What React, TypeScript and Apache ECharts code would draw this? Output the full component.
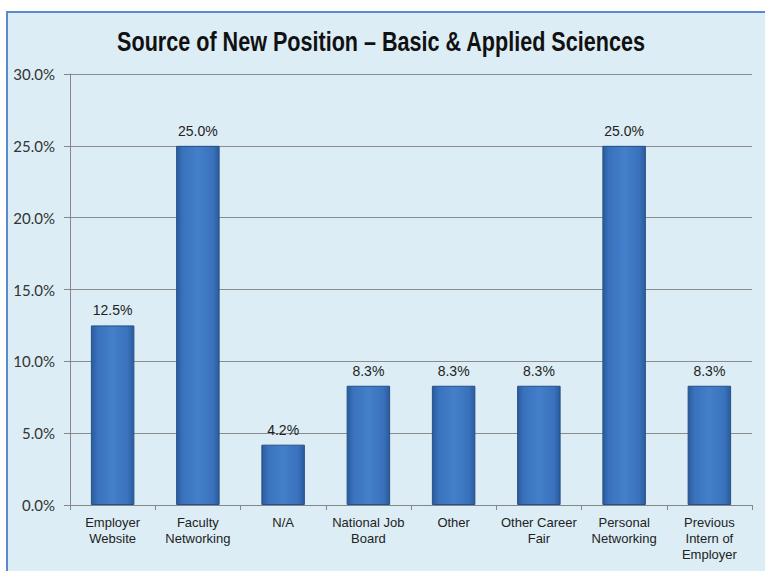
import React, { useEffect, useRef } from "react";
import * as echarts from "echarts";

const categories = [
  "Employer\nWebsite",
  "Faculty\nNetworking",
  "N/A",
  "National Job\nBoard",
  "Other",
  "Other Career\nFair",
  "Personal\nNetworking",
  "Previous\nIntern of\nEmployer",
];
const values = [12.5, 25.0, 4.2, 8.3, 8.3, 8.3, 25.0, 8.3];
const title = "Source of New Position – Basic & Applied Sciences";

export default function App() {
  const ref = useRef<HTMLDivElement>(null);
  useEffect(() => {
    document.body.style.margin = "0";
    const chart = echarts.init(ref.current!, undefined, { renderer: "svg" });
    chart.setOption({
      animation: false,
      backgroundColor: "#ffffff",
      graphic: [
        {
          type: "rect",
          z: -10,
          shape: { x: 7, y: 12, width: 800, height: 600 },
          style: { fill: "#DCEDF5", stroke: "#5A8ACB", lineWidth: 2 },
        },
        {
          type: "text",
          x: 381,
          y: 42,
          scaleX: 0.83,
          scaleY: 1.05,
          style: {
            text: title,
            x: 0,
            y: 0,
            align: "center",
            verticalAlign: "middle",
            fontFamily: "Liberation Sans, Arial",
            fontWeight: "bold",
            fontSize: 26,
            fill: "#111",
          },
        },
      ],
      grid: { left: 70, right: 13, top: 74, bottom: 66, containLabel: false },
      xAxis: {
        type: "category",
        data: categories,
        axisLine: { lineStyle: { color: "#868686", width: 1 } },
        axisTick: { show: true, length: 5, lineStyle: { color: "#868686" } },
        axisLabel: {
          interval: 0,
          color: "#222",
          fontFamily: "Liberation Sans, Arial",
          fontSize: 13,
          lineHeight: 16,
          margin: 9,
        },
      },
      yAxis: {
        type: "value",
        min: 0,
        max: 30,
        interval: 5,
        axisLine: { show: true, lineStyle: { color: "#868686" } },
        axisTick: { show: true, length: 6, lineStyle: { color: "#868686" } },
        splitLine: { lineStyle: { color: "#8C8C8C", width: 1 } },
        axisLabel: {
          formatter: (v: number) => v.toFixed(1) + "%",
          color: "#333",
          fontFamily: "Lato, Liberation Sans",
          fontSize: 15,
          margin: 15,
        },
      },
      series: [
        {
          type: "bar",
          data: values,
          barWidth: "51%",
          itemStyle: {
            color: new echarts.graphic.LinearGradient(0, 0, 1, 0, [
              { offset: 0, color: "#2A5C9E" },
              { offset: 0.15, color: "#3A72BC" },
              { offset: 0.5, color: "#437FCB" },
              { offset: 0.85, color: "#3A72BC" },
              { offset: 1, color: "#2A5C9E" },
            ]),
            borderColor: "#264F86",
            borderWidth: 1,
          },
          label: {
            show: true,
            position: "top",
            distance: 8,
            formatter: (p: any) => p.value.toFixed(1) + "%",
            color: "#222",
            fontFamily: "Liberation Sans, Arial",
            fontSize: 14,
          },
        },
      ],
    });
    return () => chart.dispose();
  }, []);
  return <div ref={ref} style={{ width: 765, height: 571 }} />;
}
